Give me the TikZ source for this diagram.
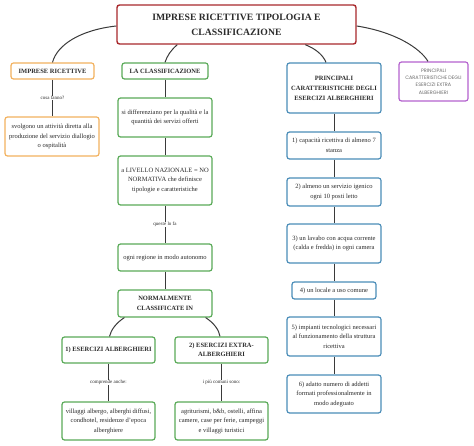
\documentclass[tikz,border=0pt]{standalone}
\usepackage{fontspec}
\setmainfont{Liberation Serif}
\newfontfamily\pop{Poppins}
\usetikzlibrary{calc}
\definecolor{cred}{HTML}{A8282C}
\definecolor{corange}{HTML}{F2B15E}
\definecolor{cgreen}{HTML}{5AAA58}
\definecolor{cblue}{HTML}{4A8DB8}
\definecolor{cpurple}{HTML}{B462CE}
\definecolor{ctext}{HTML}{2B2B2B}
\definecolor{cline}{HTML}{3A3A3A}
\tikzset{
  box/.style={draw, rounded corners=2.5pt, line width=1.2pt, fill=white, align=center,
    inner sep=1pt, text=ctext, font=\fontsize{6.5}{9.5}\selectfont},
  ob/.style={box, draw=corange},
  gb/.style={box, draw=cgreen},
  bb/.style={box, draw=cblue},
  pb/.style={box, draw=cpurple, font=\pop\fontsize{4.9}{7.3}\selectfont, text=gray!85!black},
  rb/.style={box, draw=cred, line width=1.4pt, font=\bfseries\fontsize{9.7}{15}\selectfont},
  bf/.style={font=\bfseries\fontsize{6.5}{9.5}\selectfont},
  conn/.style={line width=1pt, draw=cline},
  lbl/.style={fill=white, inner sep=0.6pt, text=ctext, font=\fontsize{5}{6}\selectfont},
}
\begin{document}
\begin{tikzpicture}[x=1pt,y=-1pt]
\useasboundingbox (0,0) rectangle (474,446);
% nodes
\node[rb, minimum width=239pt, minimum height=39pt] (title) at (236.5,24.5) {IMPRESE RICETTIVE TIPOLOGIA E\\CLASSIFICAZIONE};
\node[ob, bf, minimum width=83pt, minimum height=16pt] (imp) at (52.5,71) {IMPRESE RICETTIVE};
\node[gb, bf, minimum width=86pt, minimum height=16pt] (cla) at (165,71) {LA CLASSIFICAZIONE};
\node[bb, minimum width=94pt, minimum height=50pt, font=\bfseries\fontsize{6.5}{10}\selectfont] (pca) at (334,88) {PRINCIPALI\\CARATTERISTICHE DEGLI\\ESERCIZI ALBERGHIERI};
\node[pb, minimum width=69pt, minimum height=39pt] (pce) at (433.5,81.5) {PRINCIPALI\\CARATTERISTICHE DEGLI\\ESERCIZI EXTRA\\ALBERGHIERI};
\node[ob, minimum width=94pt, minimum height=39pt] (svo) at (52,136.5) {svolgono un attività diretta alla\\produzione del servizio diallogio\\o ospitalità};
\node[gb, minimum width=94pt, minimum height=39pt] (sid) at (165,117.5) {si differenziano per la qualità e la\\quantità dei servizi offerti};
\node[gb, minimum width=94pt, minimum height=49pt] (liv) at (165,180.5) {a LIVELLO NAZIONALE = NO\\NORMATIVA che definisce\\tipologie e caratteristiche};
\node[gb, minimum width=94pt, minimum height=27pt] (ogn) at (165,257.5) {ogni regione in modo autonomo};
\node[gb, bf, minimum width=94pt, minimum height=27pt] (nor) at (165,303.5) {NORMALMENTE\\CLASSIFICATE IN};
\node[gb, bf, minimum width=93pt, minimum height=26pt] (eal) at (108.5,350) {1) ESERCIZI ALBERGHIERI};
\node[gb, bf, minimum width=93pt, minimum height=26pt] (eex) at (221.5,350) {2) ESERCIZI EXTRA-\\ALBERGHIERI};
\node[gb, minimum width=93pt, minimum height=38pt] (vil) at (108.5,421) {villaggi albergo, alberghi diffusi,\\condhotel, residenze d'epoca\\alberghiere};
\node[gb, minimum width=93pt, minimum height=38pt] (agr) at (221.5,421) {agriturismi, b\&b, ostelli, affina\\camere, case per ferie, campeggi\\e villaggi turistici};
\node[bb, minimum width=94pt, minimum height=27pt] (c1) at (334,145.5) {1) capacità ricettiva di almeno 7\\stanza};
\node[bb, minimum width=94pt, minimum height=28pt] (c2) at (334,192) {2) almeno un servizio igenico\\ogni 10 posti letto};
\node[bb, minimum width=94pt, minimum height=39pt] (c3) at (334,243.5) {3) un lavabo con acqua corrente\\(calda e fredda) in ogni camera};
\node[bb, minimum width=84pt, minimum height=17pt] (c4) at (334,290.5) {4) un locale a uso comune};
\node[bb, minimum width=94pt, minimum height=39pt] (c5) at (334,336.5) {5) impianti tecnologici necessari\\al funzionamento della struttura\\ricettiva};
\node[bb, minimum width=94pt, minimum height=38pt] (c6) at (334,394) {6) adatto numero di addetti\\formati professionalmente in\\modo adeguato};
% anchor coordinates
\coordinate (tL) at ($(title.west)+(0,1.5)$);
\coordinate (tR) at ($(title.east)+(0,1.5)$);
\coordinate (tB1) at ($(title.south west)+(61,0)$);
\coordinate (tB2) at ($(title.south west)+(189,0)$);
\coordinate (nB1) at ($(nor.south west)+(7,0)$);
\coordinate (nB2) at ($(nor.south east)+(-7,0)$);
% connectors
\draw[conn] (tL) .. controls (80,30) and (57,45) .. (imp.north);
\draw[conn] (tB1) .. controls (171,50) and (167,56) .. (cla.north);
\draw[conn] (tB2) .. controls (316,49) and (323,55) .. ($(pca.north)+(-8,0)$);
\draw[conn] (tR) .. controls (395,32) and (420,48) .. ($(pce.north)+(-5.5,0)$);
\draw[conn] (nB1) .. controls (116,323) and (111,330) .. ($(eal.north)+(1,0)$);
\draw[conn] (nB2) .. controls (214,323) and (219,330) .. ($(eex.north)+(-1.5,0)$);
\draw[conn] (imp.south) -- (svo.north -| imp.south) node[lbl, midway] {cosa fanno?};
\draw[conn] (cla.south) -- (sid.north);
\draw[conn] (sid.south) -- (liv.north);
\draw[conn] (liv.south) -- (ogn.north) node[lbl, midway] {queste lo fa};
\draw[conn] (ogn.south) -- (nor.north);
\draw[conn] (eal.south) -- (vil.north) node[lbl, midway] {comprende anche:};
\draw[conn] (eex.south) -- (agr.north) node[lbl, midway] {i più comuni sono:};
\draw[conn] (pca.south) -- (c1.north);
\draw[conn] (c1.south) -- (c2.north);
\draw[conn] (c2.south) -- (c3.north);
\draw[conn] (c3.south) -- (c4.north);
\draw[conn] (c4.south) -- (c5.north);
\draw[conn] (c5.south) -- (c6.north);
\end{tikzpicture}
\end{document}
